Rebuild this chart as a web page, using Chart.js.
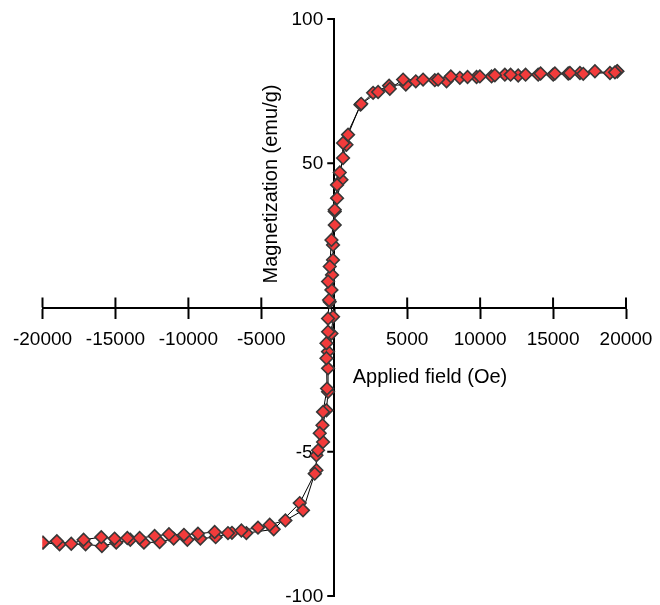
<!DOCTYPE html>
<html>
<head>
<meta charset="utf-8">
<script src="https://cdn.jsdelivr.net/npm/chart.js@4"></script>
<style>
  body { margin: 0; background: #fff; }
  #wrap { width: 660px; height: 605px; }
</style>
</head>
<body>
<div id="wrap"><canvas id="loopChart"></canvas></div>
<script>
// descending branch (from +H to -H)
const fieldDown = [19400, 19243, 17070, 16155, 15126, 14146, 13116, 12087, 11010, 9981, 9137, 7992, 7120, 6090, 4720, 3808, 3006, 1850,
  604, 604, 192, 34, -192, -309, -425, -357, -425, -425, -535, -535, -494, -768, -995, -1111, -1338,
  -2140, -3348, -4425, -5227, -6366, -7285, -8198, -9343, -10304, -11331, -12314, -13343, -14187, -15058, -15971, -17185, -18029, -19016, -19975]
const magDown = [81.9, 81.5, 81.0, 81.3, 81.1, 81.1, 80.7, 80.7, 80.5, 80.1, 79.9, 80.1, 79.0, 79.0, 79.0, 75.8, 74.7, 70.6,
  57.0, 51.8, 42.5, 33.9, 23.4, 14.2, 9.0, 2.6, -3.8, -8.4, -12.4, -17.6, -28.1, -36.2, -43.6, -49.5, -57.6,
  -70.3, -73.8, -75.3, -76.3, -77.3, -78.2, -77.8, -78.4, -78.8, -78.6, -79.2, -79.9, -79.9, -80.1, -79.6, -80.5, -81.9, -81.0, -81.5]

// ascending branch (from -H to +H)
const fieldUp = [-19975, -18830, -17048, -15929, -14944, -13981, -13047, -11971, -11010, -10070, -9180, -8129, -7011, -6023, -4151, -2367,
  -1221, -1221, -768, -809, -535, -425, -425, -425, -192, -82, -309, -192, -151, -82, -82, 34, 34, 192, 494, 377, 837, 947,
  1797, 2663, 3761, 4905, 5590, 6894, 7697, 8610, 9755, 10784, 11696, 12610, 13981, 15010, 16040, 16842, 17871, 18900, 19400]
const magUp = [-81.5, -82.1, -82.1, -82.7, -81.5, -80.5, -81.5, -81.3, -80.1, -80.5, -80.1, -79.6, -78.1, -78.2, -76.9, -67.8,
  -56.4, -51.2, -46.6, -40.8, -35.6, -29.2, -21.1, -15.3, -9.0, -3.2, 2.0, 6.1, 11.3, 16.5, 21.7, 28.6, 33.3, 37.9, 44.3, 46.8, 56.4, 59.9,
  70.3, 74.4, 76.9, 77.3, 78.4, 78.8, 78.4, 79.6, 79.9, 80.1, 80.7, 80.4, 80.7, 80.7, 81.1, 81.3, 81.9, 81.3, 81.9]

const xTicks = [-20000, -15000, -10000, -5000, 0, 5000, 10000, 15000, 20000]
const yTicks = [-100, -50, 0, 50, 100]

const xTitle = 'Applied field (Oe)'
const yTitle = 'Magnetization (emu/g)'

const FONT = "'Liberation Sans', Arial, Helvetica, sans-serif"

const toPts = (xs, ys) => xs.map((x, i) => ({x: x, y: ys[i]}))
const downPts = toPts(fieldDown, magDown)
const upPts = toPts(fieldUp, magUp)

const lineStyle = {showLine: true, borderColor: '#000', borderWidth: 1, pointRadius: 0, order: 2}
const markStyle = {showLine: false, pointStyle: 'rectRot', pointRadius: 6.3, pointBackgroundColor: '#f23b3b',
  pointBorderColor: '#383838', pointBorderWidth: 1.6, order: 1}

// upper halves of the x ticks, the y ticks + labels and the two axis titles
const extras = {
  id: 'extras',
  beforeDatasetsDraw(chart) {
    const ctx = chart.ctx
    const xs = chart.scales.x, ys = chart.scales.y
    const y0 = ys.getPixelForValue(0)
    const x0 = xs.getPixelForValue(0)
    ctx.save()
    ctx.strokeStyle = '#000'
    ctx.lineWidth = 2
    xTicks.forEach(v => {
      if (v === 0) return
      const px = xs.getPixelForValue(v)
      ctx.beginPath()
      ctx.moveTo(px, y0 - 10)
      ctx.lineTo(px, y0)
      ctx.stroke()
    })
    ctx.fillStyle = '#000'
    ctx.font = '19px ' + FONT
    ctx.textAlign = 'right'
    ctx.textBaseline = 'middle'
    yTicks.forEach(v => {
      if (v === 0) return
      const py = ys.getPixelForValue(v)
      ctx.beginPath()
      ctx.moveTo(x0, py)
      ctx.lineTo(x0 - 7, py)
      ctx.stroke()
      ctx.fillText(String(v), x0 - 11, py + 1)
    })
    ctx.font = '20px ' + FONT
    ctx.textAlign = 'center'
    ctx.fillText(xTitle, 430, 377)
    ctx.translate(271, 184)
    ctx.rotate(-Math.PI / 2)
    ctx.fillText(yTitle, 0, 0)
    ctx.restore()
  }
}

new Chart(document.getElementById('loopChart'), {
  type: 'scatter',
  data: {
    datasets: [
      {...lineStyle, data: downPts},
      {...lineStyle, data: upPts},
      {...markStyle, data: downPts},
      {...markStyle, data: upPts}
    ]
  },
  options: {
    responsive: true,
    maintainAspectRatio: false,
    animation: false,
    layout: {padding: {left: 42.5, right: 34, top: 19, bottom: 9}},
    plugins: {legend: {display: false}, tooltip: {enabled: false}},
    scales: {
      x: {
        type: 'linear',
        position: {y: 0},
        min: -20000, max: 20000,
        afterBuildTicks: s => { s.ticks = xTicks.map(v => ({value: v})) },
        afterFit: s => { s.paddingLeft = 0; s.paddingRight = 0 },
        ticks: {
          callback: v => v === 0 ? '' : String(v),
          font: {family: FONT, size: 19}, color: '#000', padding: 11, maxRotation: 0, autoSkip: false
        },
        grid: {drawOnChartArea: false, tickLength: 10, tickWidth: 2, tickColor: '#000'},
        border: {display: true, color: '#000', width: 2}
      },
      y: {
        type: 'linear',
        position: {x: 0},
        min: -100, max: 100,
        afterBuildTicks: s => { s.ticks = yTicks.map(v => ({value: v})) },
        ticks: {display: false},
        grid: {drawOnChartArea: false, drawTicks: false},
        border: {display: true, color: '#000', width: 2}
      }
    }
  },
  plugins: [extras]
})
</script>
</body>
</html>
